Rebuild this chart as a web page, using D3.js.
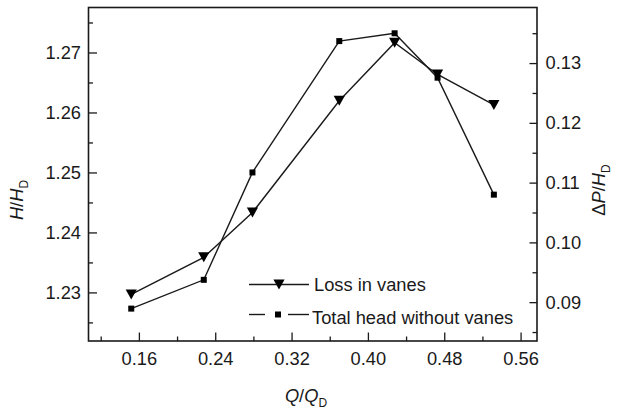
<!DOCTYPE html>
<html>
<head>
<meta charset="utf-8">
<script src="https://cdn.jsdelivr.net/npm/d3@7"></script>
<style>
  html, body { margin: 0; padding: 0; background: #fff; }
  svg { display: block; font-family: "Liberation Sans", Arial, sans-serif; }
</style>
</head>
<body>
<svg id="chart" width="617" height="411"></svg>
<script>
// ---- data ----
const flowRatio = [0.152, 0.228, 0.279, 0.370, 0.428, 0.473, 0.532];
const totalHeadWithoutVanes = [1.2273, 1.2321, 1.2500, 1.2719, 1.2732, 1.2658, 1.2463];
const lossInVanes = [0.0913, 0.0975, 0.1050, 0.1237, 0.1334, 0.1281, 0.1230];
const xTicks = [0.16, 0.24, 0.32, 0.40, 0.48, 0.56];
const xMinorTicks = [0.12, 0.20, 0.28, 0.36, 0.44, 0.52];
const yLeftTicks = [1.23, 1.24, 1.25, 1.26, 1.27];
const yLeftMinorTicks = [1.225, 1.235, 1.245, 1.255, 1.265, 1.275];
const yRightTicks = [0.09, 0.10, 0.11, 0.12, 0.13];
const yRightMinorTicks = [0.085, 0.095, 0.105, 0.115, 0.125, 0.135];
const legendLabels = ["Loss in vanes", "Total head without vanes"];

// ---- layout ----
const L = 88.5, R = 537, T = 7.5, B = 341;
const ink = "#1a1a1a";
const fs = 18.3;
const svg = d3.select("#chart");

const x = d3.scaleLinear().domain([0.1072, 0.5772]).range([L, R]);
const yL = d3.scaleLinear().domain([1.2219, 1.2775]).range([B, T]);
const yR = d3.scaleLinear().domain([0.0835, 0.1393]).range([B, T]);

function styleAxis(g) {
  g.select(".domain").remove();
  g.selectAll("line").attr("stroke", ink).attr("stroke-width", 1.3);
  g.selectAll("text").attr("fill", ink).attr("font-size", fs)
    .attr("font-family", "'Liberation Sans', Arial, sans-serif");
}

// minor ticks
svg.append("g").attr("transform", `translate(0,${B})`)
  .call(d3.axisBottom(x).tickValues(xMinorTicks).tickSize(-4.5).tickFormat(""))
  .call(styleAxis);
svg.append("g").attr("transform", `translate(${L},0)`)
  .call(d3.axisLeft(yL).tickValues(yLeftMinorTicks).tickSize(-4.5).tickFormat(""))
  .call(styleAxis);
svg.append("g").attr("transform", `translate(${R},0)`)
  .call(d3.axisRight(yR).tickValues(yRightMinorTicks).tickSize(-4.5).tickFormat(""))
  .call(styleAxis);

// major ticks
svg.append("g").attr("transform", `translate(0,${B})`)
  .call(d3.axisBottom(x).tickValues(xTicks).tickSize(-8.5).tickPadding(11).tickFormat(d3.format(".2f")))
  .call(styleAxis);
svg.append("g").attr("transform", `translate(${L},0)`)
  .call(d3.axisLeft(yL).tickValues(yLeftTicks).tickSize(-8.5).tickPadding(7.5).tickFormat(d3.format(".2f")))
  .call(styleAxis);
svg.append("g").attr("transform", `translate(${R},0)`)
  .call(d3.axisRight(yR).tickValues(yRightTicks).tickSize(-7.5).tickPadding(8.5).tickFormat(d3.format(".2f")))
  .call(styleAxis);

// frame
svg.append("rect").attr("x", L).attr("y", T).attr("width", R - L).attr("height", B - T)
  .attr("fill", "none").attr("stroke", ink).attr("stroke-width", 1.6);

// series
const lineL = d3.line().x((d, i) => x(flowRatio[i])).y(d => yL(d));
const lineR = d3.line().x((d, i) => x(flowRatio[i])).y(d => yR(d));

svg.append("path").datum(totalHeadWithoutVanes).attr("d", lineL)
  .attr("fill", "none").attr("stroke", ink).attr("stroke-width", 1.4);
svg.append("path").datum(lossInVanes).attr("d", lineR)
  .attr("fill", "none").attr("stroke", ink).attr("stroke-width", 1.4);

const tri = d3.symbol().type({draw(ctx, size) {
  const w = 5.6, h = 5;
  ctx.moveTo(-w, -h); ctx.lineTo(w, -h); ctx.lineTo(0, h); ctx.closePath();
}});

svg.append("g").selectAll("path").data(lossInVanes).join("path")
  .attr("d", tri())
  .attr("transform", (d, i) => `translate(${x(flowRatio[i])},${yR(d)})`)
  .attr("fill", "#000");

svg.append("g").selectAll("rect").data(totalHeadWithoutVanes).join("rect")
  .attr("x", (d, i) => x(flowRatio[i]) - 3)
  .attr("y", d => yL(d) - 3)
  .attr("width", 6).attr("height", 6)
  .attr("fill", "#000");

// legend
const lg = svg.append("g");
lg.append("line").attr("x1", 249).attr("x2", 309).attr("y1", 284.5).attr("y2", 284.5)
  .attr("stroke", ink).attr("stroke-width", 1.4);
lg.append("path").attr("d", tri()).attr("transform", "translate(279,284.5)").attr("fill", "#000");
lg.append("text").attr("x", 314).attr("y", 290.5).attr("font-size", fs).attr("fill", ink).text(legendLabels[0]);

lg.append("line").attr("x1", 249).attr("x2", 265).attr("y1", 314.5).attr("y2", 314.5)
  .attr("stroke", ink).attr("stroke-width", 1.4);
lg.append("line").attr("x1", 288).attr("x2", 309).attr("y1", 314.5).attr("y2", 314.5)
  .attr("stroke", ink).attr("stroke-width", 1.4);
lg.append("rect").attr("x", 275).attr("y", 311.5).attr("width", 6).attr("height", 6).attr("fill", "#000");
lg.append("text").attr("x", 312).attr("y", 323.5).attr("font-size", fs).attr("fill", ink).text(legendLabels[1]);

// axis titles
const xt = svg.append("text").attr("x", 306).attr("y", 402).attr("text-anchor", "middle")
  .attr("font-size", fs).attr("fill", ink);
xt.append("tspan").attr("font-style", "italic").text("Q");
xt.append("tspan").text("/");
xt.append("tspan").attr("font-style", "italic").text("Q");
xt.append("tspan").attr("font-size", 12).attr("dy", 5).text("D");

const ylt = svg.append("text").attr("transform", "translate(23,200) rotate(-90)")
  .attr("text-anchor", "middle").attr("font-size", fs).attr("fill", ink);
ylt.append("tspan").attr("font-style", "italic").text("H");
ylt.append("tspan").text("/");
ylt.append("tspan").attr("font-style", "italic").text("H");
ylt.append("tspan").attr("font-size", 12).attr("dy", 5).text("D");

const yrt = svg.append("text").attr("transform", "translate(605,190) rotate(-90)")
  .attr("text-anchor", "middle").attr("font-size", fs).attr("fill", ink);
yrt.append("tspan").text("Δ");
yrt.append("tspan").attr("font-style", "italic").text("P");
yrt.append("tspan").text("/");
yrt.append("tspan").attr("font-style", "italic").text("H");
yrt.append("tspan").attr("font-size", 12).attr("dy", 5).text("D");
</script>
</body>
</html>
